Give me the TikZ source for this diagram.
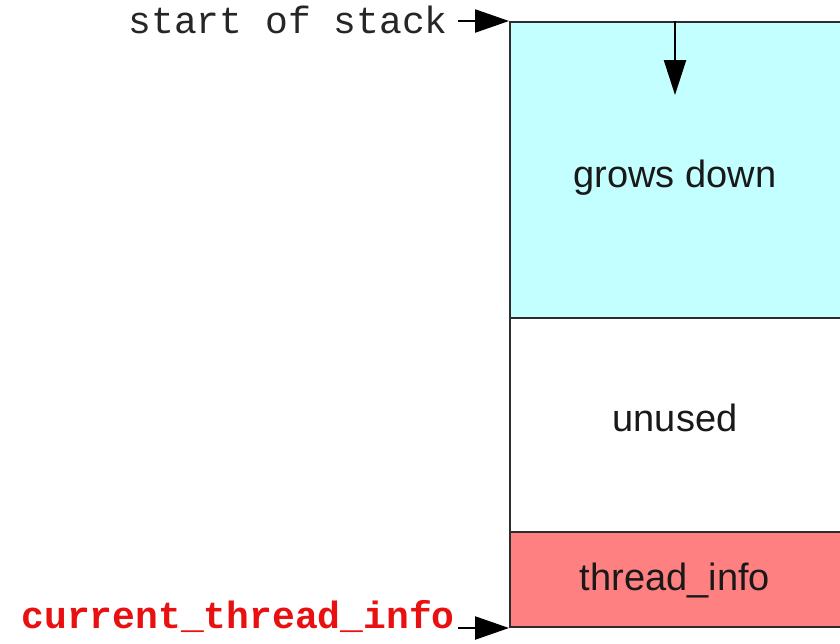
\documentclass[tikz,border=0pt]{standalone}
\usepackage{fontspec}
\newfontfamily\boxfont{Liberation Sans}
\newfontfamily\codefont{Liberation Mono}
\usetikzlibrary{arrows.meta}
\definecolor{stackcyan}{RGB}{196,255,255}
\definecolor{infored}{RGB}{255,128,128}
\definecolor{labelred}{RGB}{232,16,16}
\definecolor{edgegray}{RGB}{45,45,45}
\tikzset{
  region/.style={draw=edgegray, line width=2pt, rectangle, inner sep=0pt,
    minimum width=333pt},
  regiontext/.style={font=\boxfont\fontsize{38}{40}\selectfont, text=black!90},
  codelabel/.style={inner sep=0pt, font=\codefont\fontsize{38}{40}\selectfont},
  arr/.style={line width=2.4pt, -{Triangle[length=34pt,width=23pt]}},
}
\begin{document}
\begin{tikzpicture}[x=1pt, y=-1pt]
  \useasboundingbox (0,0) rectangle (840,643);
  % stack regions, top to bottom (right edge runs past the page)
  \node[region, fill=stackcyan, minimum height=296pt, anchor=north west] (grows) at (509,21) {};
  \node[region, fill=white, minimum height=214pt, anchor=north west] (unused) at (509,317) {};
  \node[region, fill=infored, minimum height=95pt, anchor=north west] (thread) at (509,531) {};
  \node[regiontext] (growstext) at (675,178) {grows down};
  \node[regiontext] (unusedtext) at (675,418) {unused};
  \node[regiontext] (threadtext) at (675,580) {thread\_info};
  % direction of growth
  \coordinate (growtop) at (675,21);
  \coordinate (growtip) at (675,95);
  \draw[arr, -{Triangle[length=35pt,width=22pt]}] (growtop) -- (growtip);
  % pointers into the stack
  \node[codelabel, text=black!85, anchor=base east] (sos) at (448,33) {start of stack};
  \node[codelabel, text=labelred, font=\codefont\bfseries\fontsize{38}{40}\selectfont, anchor=base east] (cti) at (455,628) {current\_thread\_info};
  \draw[arr] ([xshift=10pt]sos.east |- grows.north west) -- (grows.north west);
  \draw[arr] ([xshift=3pt]cti.east |- thread.south west) -- (thread.south west);
\end{tikzpicture}
\end{document}
